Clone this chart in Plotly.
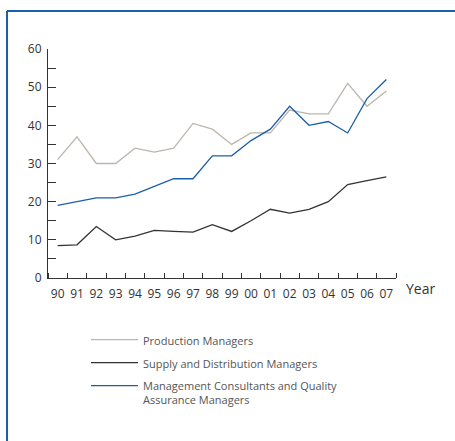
import plotly.graph_objects as go

years = ["90", "91", "92", "93", "94", "95", "96", "97", "98", "99",
         "00", "01", "02", "03", "04", "05", "06", "07"]
production = [31, 37, 30, 30, 34, 33, 34, 40.5, 39, 35, 38, 38, 44, 43, 43, 51, 45, 49]
supply = [8.5, 8.7, 13.5, 10, 11, 12.5, 12.2, 12, 14, 12.2, 15, 18, 17, 18, 20, 24.5, 25.5, 26.5]
consultants = [19, 20, 21, 21, 22, 24, 26, 26, 32, 32, 36, 39, 45, 40, 41, 38, 47, 52]
series_names = ["Production Managers", "Supply and Distribution Managers",
                "Management Consultants and Quality<br>Assurance Managers"]
y_tickvals = [0, 5, 10, 15, 20, 25, 30, 35, 40, 45, 50, 55, 60]
y_ticktext = ["0", "", "10", "", "20", "", "30", "", "40", "", "50", "", "60"]

colors = ["#bdb6ae", "#333333", "#1c5ea8"]
font_family = "Open Sans, Noto Sans, sans-serif"

xpos = list(range(len(years)))
boundaries = [i - 0.5 for i in range(len(years) + 1)]

fig = go.Figure()
for i, (name, vals, col) in enumerate(zip(series_names, [production, supply, consultants], colors)):
    fig.add_trace(go.Scatter(x=xpos, y=vals, mode="lines", name=name,
                             legendgroup="g%d" % i,
                             line=dict(color=col, width=1.3)))

L, R, T, B = 48, 59, 49, 163
W, H = 455, 441
pw = W - L - R
ph = H - T - B

def px_x(p):
    return (p - L) / pw

def px_y(p):
    return (H - B - p) / ph

fig.update_layout(
    width=W, height=H,
    margin=dict(l=L, r=R, t=T, b=B),
    paper_bgcolor="white", plot_bgcolor="white",
    font=dict(family=font_family, color="#333333", size=12),
    showlegend=True,
    legend=dict(x=px_x(86), y=px_y(326), xanchor="left", yanchor="top",
                font=dict(size=11, color="#555555"), tracegroupgap=4,
                itemwidth=47,
                valign="top", bgcolor="rgba(0,0,0,0)"),
    xaxis=dict(range=[-0.5, len(years) - 0.5],
               showline=True, linecolor="#333333", linewidth=1, layer="above traces",
               tickvals=xpos, ticktext=years, ticks="",
               tickangle=0, ticklabelstandoff=5,
               minor=dict(tickvals=boundaries, ticks="inside", ticklen=5,
                          tickcolor="#333333", showgrid=False),
               showgrid=False, zeroline=False, tickfont=dict(size=12, color="#333333"),
               fixedrange=True),
    yaxis=dict(range=[0, 60], showline=True, linecolor="#333333", linewidth=1,
               ticks="inside", ticklen=8, tickcolor="#333333",
               tickvals=y_tickvals, ticktext=y_ticktext, ticklabelstandoff=3,
               showgrid=False, zeroline=True, zerolinecolor="#333333", zerolinewidth=1,
               tickfont=dict(size=12, color="#333333"),
               fixedrange=True),
    shapes=[
        dict(type="line", xref="paper", yref="paper", x0=px_x(7), x1=px_x(W + 5),
             y0=px_y(11), y1=px_y(11), line=dict(color="#1c5ea8", width=2)),
        dict(type="line", xref="paper", yref="paper", x0=px_x(7), x1=px_x(7),
             y0=px_y(11), y1=px_y(H + 5), line=dict(color="#1c5ea8", width=2)),
    ],
    annotations=[
        dict(text="Year", xref="paper", yref="paper", x=px_x(404), y=px_y(288),
             xanchor="left", yanchor="middle", showarrow=False,
             font=dict(size=14, color="#333333")),
    ],
)

fig.write_html("out.html", config={"displayModeBar": False},
               post_script="document.body.style.margin='0';document.body.style.overflow='hidden';")
